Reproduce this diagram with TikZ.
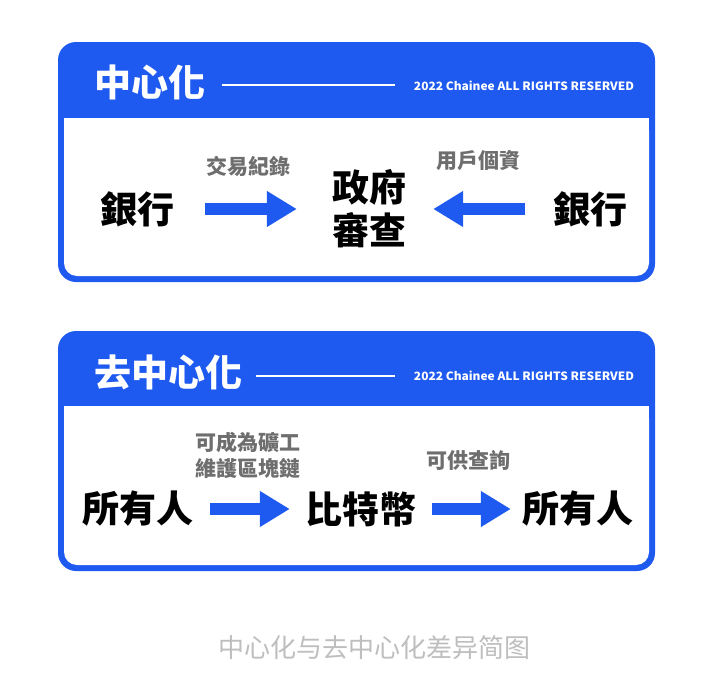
\documentclass[tikz,border=0pt]{standalone}
\usepackage{fontspec}
\usepackage{graphicx}
\newfontfamily\tcfont{Noto Sans CJK TC}
\newfontfamily\scfont{Noto Sans CJK SC}
\usetikzlibrary{arrows.meta}
\definecolor{cblue}{RGB}{31,90,240}
\definecolor{lblgray}{RGB}{110,110,110}
\definecolor{capgray}{RGB}{190,190,190}
\tikzset{
  bigtext/.style={inner sep=0pt, font=\tcfont\bfseries\fontsize{37}{43}\selectfont, text=black, align=center},
  hdtext/.style={inner sep=0pt, font=\tcfont\bfseries\fontsize{37}{42}\selectfont, text=white},
  lbltext/.style={inner sep=0pt, font=\tcfont\bfseries\fontsize{21}{26}\selectfont, text=lblgray, align=center},
  bigarrow/.style={draw=cblue, line width=12pt, -{Triangle[length=30pt,width=34pt]}},
  cardborder/.style={fill=cblue, rounded corners=18pt},
  cardbody/.style={fill=white},
  hdline/.style={draw=white, line width=1.2pt},
}
\newcommand{\copyr}{\resizebox{220pt}{9.5pt}{\tcfont\bfseries 2022 Chainee ALL RIGHTS RESERVED}}
\begin{document}
\begin{tikzpicture}[x=1pt,y=-1pt]
\useasboundingbox (0,0) rectangle (702,680);
\fill[white] (0,0) rectangle (702,680);
% ---- top card ----
\fill[cardborder] (58,42) rectangle (655,282);
\fill[cardbody, rounded corners=13pt] (64,118) -- (64,276) -- (649,276) -- (649,118) [sharp corners] -- cycle;
\fill[white] (64,118) rectangle (649,140);
\node[hdtext] (t1) at (150,82) {中心化};
\coordinate (l1a) at (222,85);
\coordinate (l1b) at (395,85);
\draw[hdline] (l1a) -- (l1b);
\node[inner sep=0pt, text=white] (c1) at (524,86) {\copyr};
\node[bigtext] (bankL) at (137,209) {銀行};
\node[bigtext] (gov) at (369,209) {政府\\審查};
\node[bigtext] (bankR) at (590,209) {銀行};
\node[lbltext] (lab1) at (248,166) {交易紀錄};
\node[lbltext] (lab2) at (478,161) {用戶個資};
\draw[bigarrow, shorten <=31pt, shorten >=35pt] (bankL.east) -- (gov.west |- bankL.east);
\draw[bigarrow, shorten <=28pt, shorten >=27pt] (bankR.west) -- (gov.east |- bankR.west);
% ---- bottom card ----
\fill[cardborder] (58,331) rectangle (655,571);
\fill[cardbody, rounded corners=13pt] (64,406) -- (64,565) -- (649,565) -- (649,406) [sharp corners] -- cycle;
\fill[white] (64,406) rectangle (649,430);
\node[hdtext] (t2) at (168,372) {去中心化};
\coordinate (l2a) at (256,376);
\coordinate (l2b) at (395,376);
\draw[hdline] (l2a) -- (l2b);
\node[inner sep=0pt, text=white] (c2) at (524,376) {\copyr};
\node[bigtext] (ownL) at (138,509) {所有人};
\node[bigtext] (btc) at (361,509) {比特幣};
\node[bigtext] (ownR) at (578,509) {所有人};
\node[lbltext] (lab3) at (248,455) {可成為礦工\\維護區塊鏈};
\node[lbltext] (lab4) at (468,460) {可供查詢};
\draw[bigarrow, shorten <=16.5pt, shorten >=15.5pt] (ownL.east) -- (btc.west |- ownL.east);
\draw[bigarrow, shorten <=15.5pt, shorten >=11.5pt] (btc.east) -- (ownR.west |- btc.east);
% ---- caption ----
\node[inner sep=0pt, text=capgray, font=\scfont\fontsize{26}{30}\selectfont] (cap) at (374,648) {中心化与去中心化差异简图};
\end{tikzpicture}
\end{document}
